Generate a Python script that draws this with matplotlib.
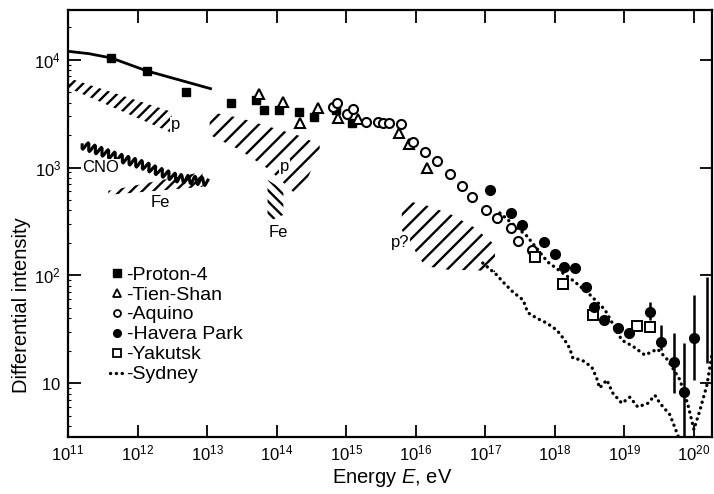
import numpy as np
import matplotlib
matplotlib.use("Agg")
import matplotlib.pyplot as plt
from matplotlib.lines import Line2D
from matplotlib.ticker import FixedLocator, FuncFormatter, NullLocator, LogLocator

plt.rcParams['font.family'] = ['Liberation Sans', 'DejaVu Sans']
plt.rcParams['mathtext.fontset'] = 'custom'
plt.rcParams['mathtext.rm'] = 'Liberation Sans'
plt.rcParams['mathtext.it'] = 'Liberation Sans:italic'
plt.rcParams['hatch.linewidth'] = 1.7
plt.rcParams['hatch.color'] = 'black'

# --- data (energy in eV, differential intensity) ---
proton_line_E = [1e11, 2e11, 4.2e11, 1.35e12, 4e12, 1.12e13]
proton_line_I = [1.2e4, 1.14e4, 1.04e4, 7.9e3, 6.5e3, 5.4e3]

proton_E = [4.2e11, 1.35e12, 4.9e12, 2.2e13, 5.0e13, 6.5e13, 1.07e14, 2.1e14, 3.5e14, 7.2e14, 1.23e15]
proton_I = [1.04e4, 7.9e3, 5.0e3, 4.0e3, 4.25e3, 3.4e3, 3.45e3, 3.3e3, 2.95e3, 3.45e3, 2.6e3]

tien_E = [5.5e13, 1.22e14, 2.15e14, 4.0e14, 7.6e14, 1.5e15, 5.7e15, 7.9e15, 1.45e16]
tien_I = [4.8e3, 4.1e3, 2.6e3, 3.6e3, 2.9e3, 2.85e3, 2.1e3, 1.66e3, 990]

aquino_E = [6.4e14, 7.5e14, 1.02e15, 1.24e15, 1.9e15, 2.84e15, 3.35e15, 4.1e15, 6.1e15, 9.1e15,
            1.35e16, 2.0e16, 3.1e16, 4.6e16, 6.4e16, 1.02e17, 1.46e17, 2.33e17, 3.0e17, 4.7e17]
aquino_I = [3.66e3, 4.0e3, 3.15e3, 3.5e3, 2.66e3, 2.66e3, 2.6e3, 2.6e3, 2.55e3, 1.73e3,
            1.4e3, 1.15e3, 870, 680, 535, 405, 340, 275, 210, 170]

havera_E = [1.16e17, 2.33e17, 3.35e17, 6.95e17, 1.0e18, 1.35e18, 1.94e18, 2.8e18, 3.6e18, 5.1e18,
            8.05e18, 1.16e19, 2.33e19, 3.35e19, 5.15e19, 7.2e19, 1.0e20]
havera_I = [620, 380, 290, 205, 158, 120, 117, 78, 51, 38.5,
            32.5, 29.2, 45.7, 24.1, 15.7, 8.3, 26.2]
havera_lo = [620, 380, 290, 205, 158, 120, 117, 78, 51, 38.5,
             32.5, 29.2, 38.5, 20.3, 8.1, 2.5, 10.7]
havera_hi = [620, 380, 290, 205, 158, 120, 117, 78, 51, 38.5,
             32.5, 29.2, 56.6, 34.7, 29.2, 23.6, 65.8]
limit_E = [1.54e20]
limit_lo = [15.4]
limit_hi = [96.6]

yakutsk_E = [5.15e17, 1.3e18, 3.5e18, 1.51e19, 2.33e19]
yakutsk_I = [148, 83, 43, 34, 33]

upper_dots_E = [1.62e17, 3.95e17, 7.9e17, 1.94e18, 3.2e18, 5.25e18, 9.2e18, 1.32e19, 1.97e19,
                3.0e19, 4.2e19, 6.3e19, 8.2e19, 1.0e20, 1.22e20, 1.54e20, 1.86e20]
upper_dots_I = [379, 232, 133, 87, 66, 48, 25, 22, 18.2,
                20.7, 16.4, 10.7, 6.3, 3.7, 5.6, 9.6, 20.3]

sydney_E = [9.2e16, 1.46e17, 1.79e17, 2.5e17, 3.5e17, 4.1e17, 5.5e17, 7.7e17, 1.07e18, 1.39e18,
            1.64e18, 1.82e18, 2.44e18, 3.4e18, 4.0e18, 4.4e18, 5.6e18, 6.8e18, 9.2e18, 1.2e19,
            1.56e19, 2.18e19, 2.75e19, 3.25e19, 4.5e19, 5.3e19, 6.3e19]
sydney_I = [130, 101, 87, 70, 59, 45, 40, 36, 31, 25,
            21, 17, 16.4, 14.1, 11.1, 9.0, 10.7, 8.1, 6.5, 7.4,
            6.0, 6.5, 7.7, 6.5, 5.1, 3.9, 2.9]

cno_E = [1.6e11, 5.0e11, 1.18e12, 2.07e12, 3.64e12, 1.02e13]
cno_I = [1625, 1256, 1059, 912, 802, 737]

# hatched bands: x, lower, upper
p1_E = [1e11, 3.1e12]
p1_lo = [5.5e3, 2.1e3]
p1_hi = [6.8e3, 3.29e3]

fe1_E = [3.8e11, 8.6e12]
fe1_lo = [558, 663]
fe1_hi = [608, 912]

p2_E = [1.09e13, 2.94e13, 7.9e13, 2.14e14, 4.16e14]
p2_lo = [2010, 1460, 953, 524, 1460]
p2_hi = [3290, 2890, 2390, 1970, 1625]

fe2_E = [7.4e13, 1.25e14]
fe2_lo = [313, 364]
fe2_hi = [769, 621]

pq_E = [6.3e15, 1.35e16, 3.1e16, 7.1e16, 1.38e17]
pq_lo = [263, 122, 112, 112, 107]
pq_hi = [501, 451, 372, 276, 191]

band_labels = ['p', 'CNO', 'Fe', 'p', 'Fe', 'p?']
band_label_E = [3.5e12, 2.95e11, 2.1e12, 1.3e14, 1.05e14, 5.9e15]
band_label_I = [2490, 1000, 470, 1015, 248, 200]

legend_names = ['Proton-4', 'Tien-Shan', 'Aquino', 'Havera Park', 'Yakutsk', 'Sydney']

# --- figure ---
fig = plt.figure(figsize=(7.14, 4.94), dpi=100)
ax = fig.add_axes([0.0952, 0.1154, 0.902, 0.8644])
ax.set_xscale('log')
ax.set_yscale('log')
ax.set_xlim(1e11, 1.82e20)
ax.set_ylim(3.16, 2.9e4)

hatch_kw = dict(facecolor='none', edgecolor='black', linewidth=0)
ax.fill_between(p1_E, p1_lo, p1_hi, hatch='///', **hatch_kw)
ax.fill_between(fe1_E, fe1_lo, fe1_hi, hatch='///', **hatch_kw)
ax.fill_between(p2_E, p2_lo, p2_hi, hatch='//', **hatch_kw)
ax.fill_between(fe2_E, fe2_lo, fe2_hi, hatch='\\\\\\', **hatch_kw)
ax.fill_between(pq_E, pq_lo, pq_hi, hatch='//', **hatch_kw)

cno, = ax.plot(cno_E, cno_I, color='black', lw=2.2)
cno.set_sketch_params(scale=4, length=7, randomness=1)

for lab, e, i in zip(band_labels, band_label_E, band_label_I):
    ax.text(e, i, lab, fontsize=12, ha='center', va='center',
            bbox=dict(facecolor='white', edgecolor='none', pad=0.5))

dots = dict(color='black', lw=2.4, linestyle=(0, (0.05, 1.7)), dash_capstyle='round')
ax.plot(sydney_E, sydney_I, **dots)
ax.plot(upper_dots_E, upper_dots_I, **dots)

ax.plot(proton_line_E, proton_line_I, color='black', lw=2.0)
ax.plot(proton_E, proton_I, 's', color='black', ms=6)
ax.plot(tien_E, tien_I, '^', mfc='white', mec='black', ms=7.5, mew=1.5)
ax.plot(aquino_E, aquino_I, 'o', mfc='white', mec='black', ms=6.5, mew=1.5)
havera_I = np.array(havera_I)
ax.errorbar(havera_E, havera_I,
            yerr=[havera_I - np.array(havera_lo), np.array(havera_hi) - havera_I],
            fmt='o', color='black', ms=7, elinewidth=1.8, capsize=0)
ax.vlines(limit_E, limit_lo, limit_hi, color='black', lw=1.8)
ax.plot(yakutsk_E, yakutsk_I, 's', mfc='white', mec='black', ms=6.5, mew=1.4)

# legend
handles = [
    Line2D([], [], ls='none', marker='s', color='black', ms=6),
    Line2D([], [], ls='none', marker='^', mfc='white', mec='black', ms=6, mew=1.3),
    Line2D([], [], ls='none', marker='o', mfc='white', mec='black', ms=5, mew=1.3),
    Line2D([], [], ls='none', marker='o', color='black', ms=5.5),
    Line2D([], [], ls='none', marker='s', mfc='white', mec='black', ms=5.5, mew=1.3),
    Line2D([], [], **dots),
]
ax.legend(handles, ['-' + n for n in legend_names], loc='upper left',
          bbox_to_anchor=((110 - 68) / 644, (437 - 266) / 427), frameon=False,
          fontsize=14, handlelength=0.7, handletextpad=0.15, labelspacing=0.12,
          borderpad=0, borderaxespad=0)

# axes styling
for s in ax.spines.values():
    s.set_linewidth(1.6)

ax.xaxis.set_major_locator(FixedLocator([10.0 ** k for k in range(11, 21)]))
ax.xaxis.set_minor_locator(NullLocator())
ax.yaxis.set_major_locator(FixedLocator([10.0, 1e2, 1e3, 1e4]))
ax.yaxis.set_minor_locator(LogLocator(base=10, subs=np.arange(2, 10)))


def fmt(v, pos):
    k = int(round(np.log10(v)))
    if k == 1:
        return r'$\mathit{10}$'
    return r'$\mathit{10^{%d}}$' % k


ax.xaxis.set_major_formatter(FuncFormatter(fmt))
ax.yaxis.set_major_formatter(FuncFormatter(fmt))
ax.yaxis.set_minor_formatter(FuncFormatter(lambda v, p: ''))
ax.tick_params(which='major', direction='in', length=9, width=1.3,
               top=True, right=True, labelsize=12, pad=5)
ax.tick_params(which='minor', direction='in', length=2.5, width=0.8, right=False)

fig.text(392 / 714, 1 - 478 / 494, 'Energy $E$, eV', fontsize=14.5, ha='center', va='center')
fig.text(22 / 714, 1 - 305 / 494, 'Differential intensity', fontsize=14.5,
         rotation=90, ha='center', va='center')

fig.savefig('out.png', dpi=100)
